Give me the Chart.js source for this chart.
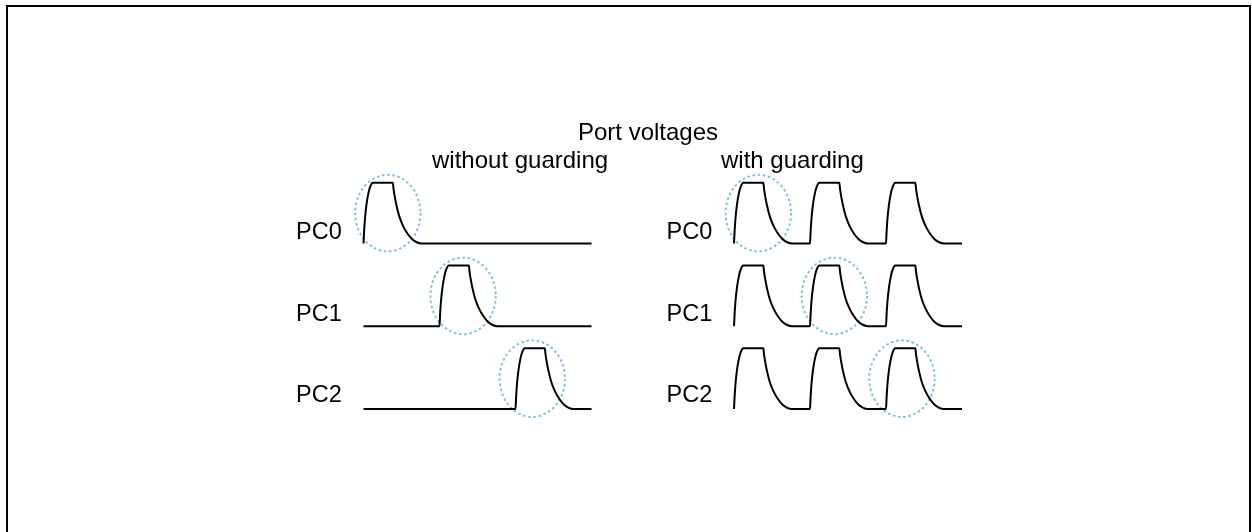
<!DOCTYPE html>
<html><head><meta charset="utf-8">
<script src="https://cdn.jsdelivr.net/npm/chart.js@4.4.1/dist/chart.umd.min.js"></script>
<style>
html,body{margin:0;padding:0;background:#fff;width:1252px;height:532px;overflow:hidden;}
#frame{position:absolute;left:6px;top:5px;width:1245px;height:600px;box-sizing:border-box;border:2px solid #000;border-bottom:none;}
#c{position:absolute;left:0;top:0;}
</style></head><body>
<div id="frame"></div>
<canvas id="c" width="1252" height="532"></canvas>
<script>
// ---- data ----
const chartTitle = 'Port voltages';
const panelTitles = ['without guarding', 'with guarding'];
const channels = ['PC0', 'PC1', 'PC2'];
// pulse start times (in time slots) per channel
const pulseStartsWithout = [[0], [1], [2]];
const pulseStartsWith = [[0, 1, 2], [0, 1, 2], [0, 1, 2]];
const traceStart = 0;
const traceEnd = 3;
// one pulse: time after pulse start (slots) and level (fraction of high)
const pulseShapeT = [0, 0.008, 0.02, 0.04, 0.065, 0.09, 0.122, 0.386, 0.395, 0.41, 0.435, 0.47, 0.52, 0.58, 0.64, 0.70, 0.76];
const pulseShapeV = [0, 0.2, 0.42, 0.65, 0.83, 0.94, 1, 1, 0.9, 0.78, 0.62, 0.45, 0.29, 0.16, 0.07, 0.02, 0];
// highlighted (circled) pulse centre times per channel
const highlightWithout = [0.32, 1.31, 2.22];
const highlightWith = [0.32, 1.32, 2.21];
const highVolts = 3.3;
const rowSpacingVolts = 4.5;
const rightPanelOffset = 4.875; // time-axis offset of the "with guarding" panel

// ---- build series ----
function rowBase(i) { return (channels.length - 1 - i) * rowSpacingVolts; }
function buildTrace(i, starts, offset) {
  const base = rowBase(i);
  const pts = [{x: offset + traceStart, y: base}];
  starts.forEach(s => {
    pulseShapeT.forEach((dt, k) => {
      const x = offset + s + dt;
      if (x > pts[pts.length - 1].x + 1e-9) pts.push({x, y: base + pulseShapeV[k] * highVolts});
    });
  });
  pts.push({x: offset + traceEnd, y: base});
  return pts;
}
const datasets = [];
channels.forEach((name, i) => {
  datasets.push({label: name + ' ' + panelTitles[0], data: buildTrace(i, pulseStartsWithout[i], 0)});
  datasets.push({label: name + ' ' + panelTitles[1], data: buildTrace(i, pulseStartsWith[i], rightPanelOffset)});
});
datasets.forEach(d => Object.assign(d, {
  showLine: true, borderColor: '#000', borderWidth: 2, pointRadius: 0,
  cubicInterpolationMode: 'monotone', fill: false, clip: false
}));

const TITLE_FONT = '24px "Liberation Sans", Arial, sans-serif';
const LABEL_FONT = '23.5px "Liberation Sans", Arial, sans-serif';
const overlay = {
  id: 'overlay',
  beforeDatasetsDraw(chart) {
    const {ctx, scales: {x, y}} = chart;
    const rxT = 0.43, ryV = 2.08;
    ctx.save();
    ctx.strokeStyle = '#86bee0';
    ctx.lineWidth = 2;
    ctx.setLineDash([2.6, 2.6]);
    [[highlightWithout, 0], [highlightWith, rightPanelOffset]].forEach(([hl, off]) => {
      hl.forEach((t, i) => {
        const cx = x.getPixelForValue(off + t);
        const cy = y.getPixelForValue(rowBase(i) + highVolts / 2);
        const rx = x.getPixelForValue(off + t + rxT) - cx;
        const ry = cy - y.getPixelForValue(rowBase(i) + highVolts / 2 + ryV);
        ctx.beginPath();
        ctx.ellipse(cx, cy, rx, ry, 0, 0, Math.PI * 2);
        ctx.stroke();
      });
    });
    ctx.restore();
  },
  afterDraw(chart) {
    const {ctx, scales: {x, y}} = chart;
    ctx.save();
    ctx.fillStyle = '#000';
    ctx.textBaseline = 'alphabetic';
    ctx.font = TITLE_FONT;
    ctx.textAlign = 'center';
    ctx.fillText(chartTitle, 648, 140);
    ctx.textAlign = 'left';
    ctx.fillText(panelTitles[0], 432, 168);
    ctx.fillText(panelTitles[1], 721, 168);
    ctx.font = LABEL_FONT;
    [0, rightPanelOffset].forEach(off => {
      const lx = x.getPixelForValue(off) - 67.5;
      channels.forEach((name, i) => {
        ctx.fillText(name, lx, y.getPixelForValue(rowBase(i)) - 4 - i * 1.4);
      });
    });
    ctx.restore();
  }
};

new Chart(document.getElementById('c'), {
  type: 'scatter',
  data: {datasets},
  options: {
    responsive: false,
    devicePixelRatio: 1,
    animation: false,
    layout: {padding: {left: 363.5, right: 290, top: 169.9, bottom: 86.2}},
    plugins: {legend: {display: false}, tooltip: {enabled: false}, title: {display: false}},
    scales: {
      x: {type: 'linear', display: false, min: 0, max: rightPanelOffset + traceEnd},
      y: {type: 'linear', display: false, min: -2, max: 13}
    }
  },
  plugins: [overlay]
});
</script>
</body></html>
